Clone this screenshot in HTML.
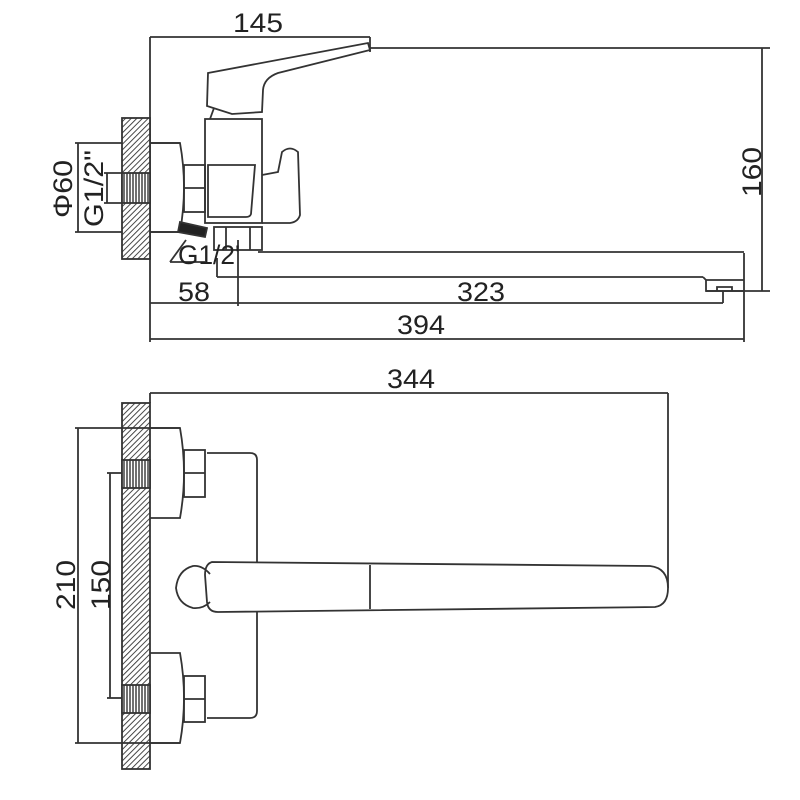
<!DOCTYPE html>
<html><head><meta charset="utf-8"><style>
html,body{margin:0;padding:0;background:#fff}
svg{display:block}
text{font-family:"Liberation Sans",sans-serif;fill:#222}
</style></head><body>
<svg width="800" height="800" viewBox="0 0 800 800" xmlns="http://www.w3.org/2000/svg">
<defs>
<pattern id="h" patternUnits="userSpaceOnUse" width="4" height="4" patternTransform="rotate(45)">
<rect width="4" height="4" fill="#fff"/><line x1="0" y1="0" x2="0" y2="4" stroke="#333" stroke-width="1.8"/>
</pattern>
<pattern id="t" patternUnits="userSpaceOnUse" width="3" height="5">
<rect width="3" height="5" fill="#fff"/><line x1="1" y1="0" x2="1" y2="5" stroke="#333" stroke-width="1.4"/>
</pattern>
</defs>
<g fill="none" stroke="#333" stroke-width="1.8">
<line x1="150" y1="37" x2="370" y2="37"/>
<line x1="150" y1="37" x2="150" y2="342"/>
<line x1="370" y1="37" x2="370" y2="52"/>
<line x1="370" y1="48" x2="770" y2="48"/>
<line x1="762" y1="48" x2="762" y2="291"/>
<line x1="706" y1="291" x2="770" y2="291"/>
<line x1="150" y1="303" x2="723" y2="303"/>
<line x1="238" y1="240" x2="238" y2="306"/>
<line x1="723" y1="291" x2="723" y2="303"/>
<line x1="150" y1="339" x2="744" y2="339"/>
<line x1="744" y1="253" x2="744" y2="342"/>
<line x1="75" y1="143" x2="180" y2="143"/>
<line x1="75" y1="232" x2="180" y2="232"/>
<line x1="78" y1="143" x2="78" y2="232"/>
<line x1="104" y1="173" x2="122" y2="173"/>
<line x1="104" y1="203" x2="122" y2="203"/>
<line x1="107" y1="173" x2="107" y2="203"/>
<rect x="122" y="118" width="28" height="141" fill="url(#h)"/>
<rect x="122" y="173" width="28" height="30" fill="url(#t)"/>
<path d="M150,143 L180,143 Q188,187 180,232 L150,232"/>
<rect x="184" y="165" width="21" height="47"/>
<line x1="184" y1="188" x2="205" y2="188"/>
<rect x="205" y="119" width="57" height="104"/>
<path d="M208,165 L255,165 L251,214 Q250,217 246,217 L208,217 Z"/>
<path d="M262,175 L278,172 L282,152 Q290,145 298,152 L300,215 Q298,222 290,223 L262,223"/>
<path d="M208,73 L368,43 L370,50 L278,73 Q264,78 263,90 L262,112 L232,114 L207,106 Z"/>
<line x1="214" y1="108" x2="210" y2="119"/>
<path d="M180,222 L207,228 L205,237 L178,232 Z" fill="#222"/>
<rect x="214" y="227" width="48" height="23"/>
<line x1="226" y1="227" x2="226" y2="250"/>
<line x1="250" y1="227" x2="250" y2="250"/>
<path d="M170,262 L186,240 M170,262 L205,262"/>
<line x1="258" y1="252" x2="744" y2="252"/>
<line x1="217" y1="277" x2="703" y2="277"/>
<line x1="217" y1="258" x2="217" y2="277"/>
<path d="M703,277 L706,280 L706,291 L744,291"/>
<line x1="706" y1="280" x2="744" y2="280"/>
<path d="M717,291 L717,287 L732,287 L732,291"/>

<line x1="150" y1="393" x2="668" y2="393"/>
<line x1="150" y1="393" x2="150" y2="403"/>
<path d="M668,393 L668,588"/>
<rect x="122" y="403" width="28" height="366" fill="url(#h)"/>
<rect x="122" y="460" width="28" height="28" fill="url(#t)"/>
<rect x="122" y="685" width="28" height="28" fill="url(#t)"/>
<line x1="75" y1="428" x2="180" y2="428"/>
<line x1="75" y1="743" x2="180" y2="743"/>
<line x1="78" y1="428" x2="78" y2="743"/>
<line x1="107" y1="473" x2="122" y2="473"/>
<line x1="107" y1="698" x2="122" y2="698"/>
<line x1="110" y1="473" x2="110" y2="698"/>
<path d="M150,428 L180,428 Q188,473 180,518 L150,518"/>
<path d="M150,653 L180,653 Q188,698 180,743 L150,743"/>
<rect x="184" y="450" width="21" height="47"/>
<line x1="184" y1="473" x2="205" y2="473"/>
<rect x="184" y="676" width="21" height="46"/>
<line x1="184" y1="699" x2="205" y2="699"/>
<path d="M207,453 L250,453 Q257,453 257,460 L257,711 Q257,718 250,718 L207,718"/>
<path d="M212,562 Q205,564 205,575 L207,602 Q208,612 218,612 L655,607 Q668,605 668,588 Q668,568 650,566 Z" fill="#fff"/>
<path d="M210,574 Q202,565 193,566 Q178,570 176,588 Q178,604 193,608 Q203,609 210,602"/>
<line x1="370" y1="565" x2="370" y2="609"/>
</g>
<g font-size="27">
<text x="233" y="32" textLength="50" lengthAdjust="spacingAndGlyphs">145</text>
<text x="178" y="301" textLength="32" lengthAdjust="spacingAndGlyphs">58</text>
<text x="457" y="301" textLength="48" lengthAdjust="spacingAndGlyphs">323</text>
<text x="397" y="334" textLength="48" lengthAdjust="spacingAndGlyphs">394</text>
<text x="387" y="388" textLength="48" lengthAdjust="spacingAndGlyphs">344</text>
<text x="178" y="264" textLength="62" lengthAdjust="spacingAndGlyphs">G1/2'</text>
<text transform="translate(761,197) rotate(-90)" textLength="50" lengthAdjust="spacingAndGlyphs">160</text>
<text transform="translate(72,218) rotate(-90)" textLength="58" lengthAdjust="spacingAndGlyphs">Φ60</text>
<text transform="translate(103,227) rotate(-90)" textLength="77" lengthAdjust="spacingAndGlyphs">G1/2"</text>
<text transform="translate(75,610) rotate(-90)" textLength="50" lengthAdjust="spacingAndGlyphs">210</text>
<text transform="translate(110,610) rotate(-90)" textLength="50" lengthAdjust="spacingAndGlyphs">150</text>
</g>
</svg>
</body></html>
